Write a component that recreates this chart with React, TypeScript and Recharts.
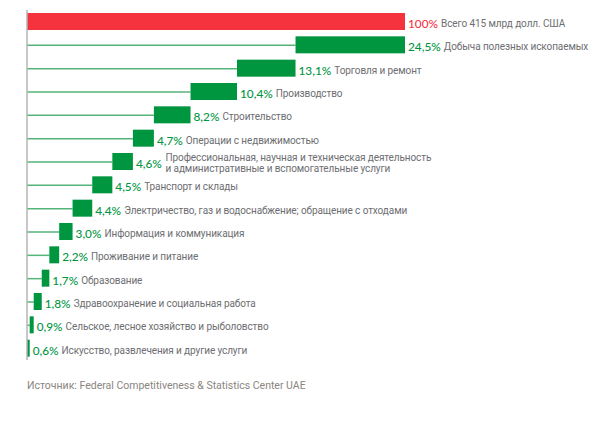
import React from 'react';
import { BarChart, Bar, XAxis, YAxis, LabelList, ReferenceLine } from 'recharts';

// Sectors, top to bottom (after the total row)
const sectors = [
    'Добыча полезных ископаемых',
    'Торговля и ремонт',
    'Производство',
    'Строительство',
    'Операции с недвижимостью',
    'Профессиональная, научная и техническая деятельность\nи административные и вспомогательные услуги',
    'Транспорт и склады',
    'Электричество, газ и водоснабжение; обращение с отходами',
    'Информация и коммуникация',
    'Проживание и питание',
    'Образование',
    'Здравоохранение и социальная работа',
    'Сельское, лесное хозяйство и рыболовство',
    'Искусство, развлечения и другие услуги',
];
const shares = [24.5, 13.1, 10.4, 8.2, 4.7, 4.6, 4.5, 4.4, 3.0, 2.2, 1.7, 1.8, 0.9, 0.6];
const shareLabels = ['24,5%', '13,1%', '10,4%', '8,2%', '4,7%', '4,6%', '4,5%', '4,4%', '3,0%', '2,2%', '1,7%', '1,8%', '0,9%', '0,6%'];

const totalName = 'Всего 415 млрд долл. США';
const totalLabel = '100%';
const source = 'Источник: Federal Competitiveness & Statistics Center UAE';

const RED = '#f5333f';
const GREEN = '#00963f';
const LINE = '#55b478';
const GREY = '#6d6e71';
const FONT = 'Lato, Roboto, sans-serif';
const NAME_FONT = 'Roboto, sans-serif';
const NAME_SIZE = 10;

const totalSum = shares.reduce((a, b) => a + b, 0);

// waterfall table: each bar sits on the sum of the ones below it
const chartData = [
    { name: totalName, label: totalLabel, offset: 0, value: totalSum, total: true },
    ...sectors.map((name, i) => ({
        name,
        label: shareLabels[i],
        offset: shares.slice(i + 1).reduce((a, b) => a + b, 0),
        value: shares[i],
        total: false,
    })),
];

const LeaderLine = (props: any) => {
    const { x, y, width, height } = props;
    if (!width || width <= 0) return null;
    const cy = y + height / 2 + 0.5;
    return <line x1={x} x2={x + width} y1={cy} y2={cy} stroke={LINE} strokeWidth={1.5} />;
};

const ValueBar = (props: any) => {
    const { x, y, width, height, index } = props;
    const row = chartData[index];
    return <rect x={x} y={y} width={width} height={height} fill={row && row.total ? RED : GREEN} />;
};

const renderLabel = (props: any) => {
    const { x, y, width, height, index } = props;
    const row = chartData[index];
    if (!row) return null;
    const lx = x + width + 3;
    const cy = y + height / 2 + 1.5;
    const lines = row.name.split('\n');
    const pctColor = row.total ? RED : GREEN;
    if (lines.length === 1) {
        return (
            <text x={lx} y={cy} dominantBaseline="central" fontFamily={FONT}>
                <tspan fill={pctColor} fontSize={11.8} fontWeight={500}>{row.label}</tspan>
                <tspan fill={GREY} fontSize={NAME_SIZE} fontFamily={NAME_FONT} letterSpacing={-0.1} dx={3}>{lines[0]}</tspan>
            </text>
        );
    }
    const pctWidth = row.label.length * 6.4;
    return (
        <g fontFamily={FONT}>
            <text x={lx} y={cy} dominantBaseline="central" fill={pctColor} fontSize={11.8} fontWeight={500}>{row.label}</text>
            {lines.map((line: string, i: number) => (
                <text key={i} x={lx + pctWidth + 4} y={cy - 5.8 + i * 11.6} dominantBaseline="central" fill={GREY} fontSize={NAME_SIZE} fontFamily={NAME_FONT} letterSpacing={-0.1}>
                    {line}
                </text>
            ))}
        </g>
    );
};

export default function App() {
    return (
        <div style={{ width: 591, height: 414, position: 'relative', fontFamily: FONT }}>
            <BarChart
                width={591}
                height={353}
                data={chartData}
                layout="vertical"
                margin={{ top: 2, right: 194, bottom: 1, left: 19 }}
                barSize={17}
                style={{ overflow: 'visible' }}
            >
                <XAxis type="number" domain={[0, totalSum]} hide />
                <YAxis type="category" dataKey="name" hide />
                <Bar dataKey="offset" stackId="w" shape={<LeaderLine />} isAnimationActive={false} />
                <Bar dataKey="value" stackId="w" shape={<ValueBar />} isAnimationActive={false}>
                    <LabelList dataKey="value" content={renderLabel} />
                </Bar>
                <ReferenceLine x={0} stroke="#b5b5b5" strokeWidth={1.5} />
            </BarChart>
            <div style={{ position: 'absolute', left: 19, top: 371, fontSize: 10.5, color: '#8a8580', fontFamily: NAME_FONT }}>
                {source}
            </div>
        </div>
    );
}
